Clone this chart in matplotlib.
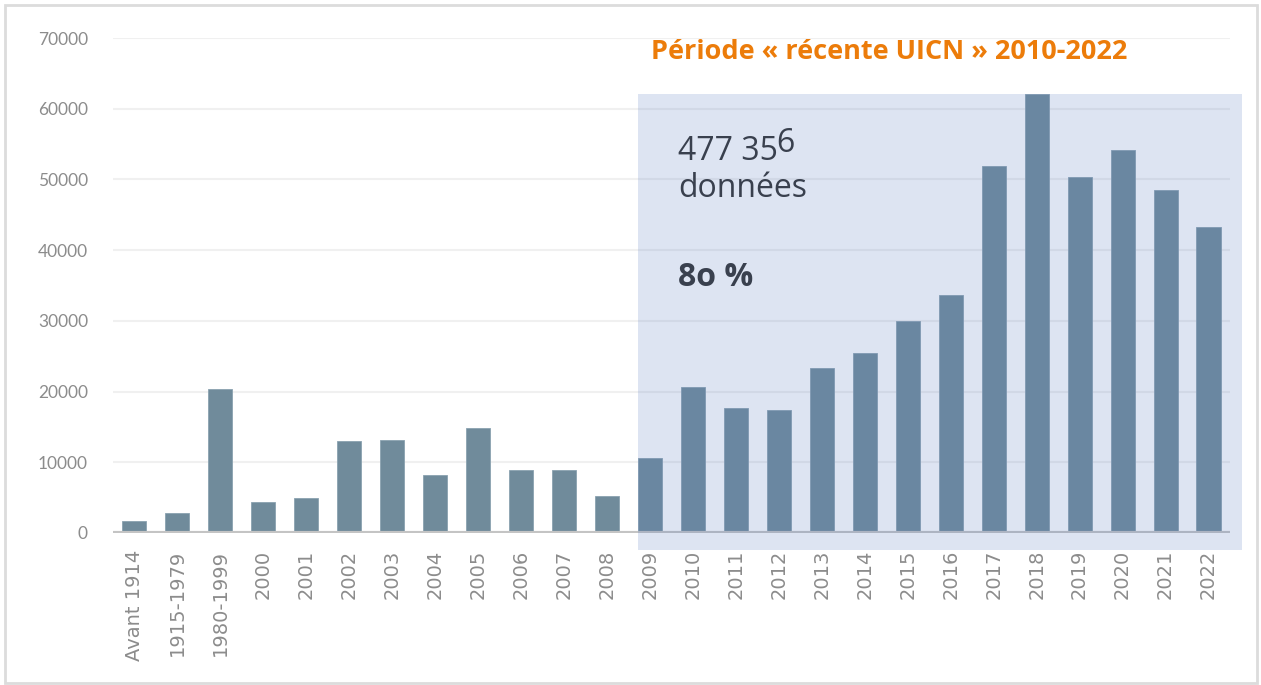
import matplotlib.pyplot as plt
from matplotlib.patches import Rectangle
import numpy as np

categories = ["Avant 1914", "1915-1979", "1980-1999", "2000", "2001", "2002", "2003",
              "2004", "2005", "2006", "2007", "2008", "2009", "2010", "2011", "2012",
              "2013", "2014", "2015", "2016", "2017", "2018", "2019", "2020", "2021", "2022"]
values = [1700, 2800, 20400, 4400, 4950, 13000, 13150, 8200, 14850, 8900, 8900, 5250,
          10600, 20650, 17700, 17400, 23300, 25450, 30000, 33650, 51900, 62100, 50350,
          54200, 48500, 43300]

fig = plt.figure(figsize=(12.61, 6.85), dpi=100)
ax = fig.add_axes([0.0896, 0.2219, 0.8858, 0.7226])

# cadre gris autour de l'image
fig.patches.append(Rectangle((0.004, 0.003), 0.993, 0.99, transform=fig.transFigure,
                             fill=False, edgecolor="#dcdcdc", linewidth=2))

x = np.arange(len(categories))
ax.bar(x, values, width=0.56, color="#708b9b", edgecolor="#8aa2b0", linewidth=0.6, zorder=2)

ax.set_xlim(-0.5, 25.5)
ax.set_ylim(0, 70000)
ax.set_yticks(np.arange(0, 70001, 10000))
ax.set_yticklabels([str(v) for v in range(0, 70001, 10000)], fontsize=12.5, color="#8c8c8c",
                   family="Lato")
ax.set_xticks(x)
ax.set_xticklabels(categories, rotation=90, fontsize=14, color="#8c8c8c", family="DejaVu Sans")
ax.tick_params(axis="y", length=0, pad=18)
ax.tick_params(axis="x", length=0, pad=12)
ax.grid(axis="y", color="#f0f0f0", linewidth=1.5, zorder=0)
for s in ax.spines.values():
    s.set_visible(False)
ax.axhline(0, color="#c4c4c4", linewidth=3, zorder=3)

# zone période récente
ax.add_patch(Rectangle((11.71, -2400), 14.08, 64500, facecolor="#5578be", alpha=0.2,
                       edgecolor="none", zorder=4, clip_on=False))

ax.text(12.03, 68000, "Période « récente UICN » 2010-2022", color="#ec7c0a", fontsize=19.5,
        fontweight="bold", family="Open Sans", va="center", ha="left")
t1 = ax.text(12.66, 53900, "477 35", fontsize=23, color="#333333", family="Open Sans",
             va="center")
ax.annotate("6", xy=(1, 0.5), xycoords=t1, xytext=(-1.5, 6), textcoords="offset points",
            fontsize=23, color="#333333", family="Open Sans", va="center", ha="left")
ax.text(12.66, 48650, "données", fontsize=23, color="#333333", family="Open Sans", va="center")
ax.text(12.66, 36070, "8o %", fontsize=23, color="#333333", family="Open Sans",
        fontweight="bold", va="center")

fig.savefig("out.png", dpi=100)
